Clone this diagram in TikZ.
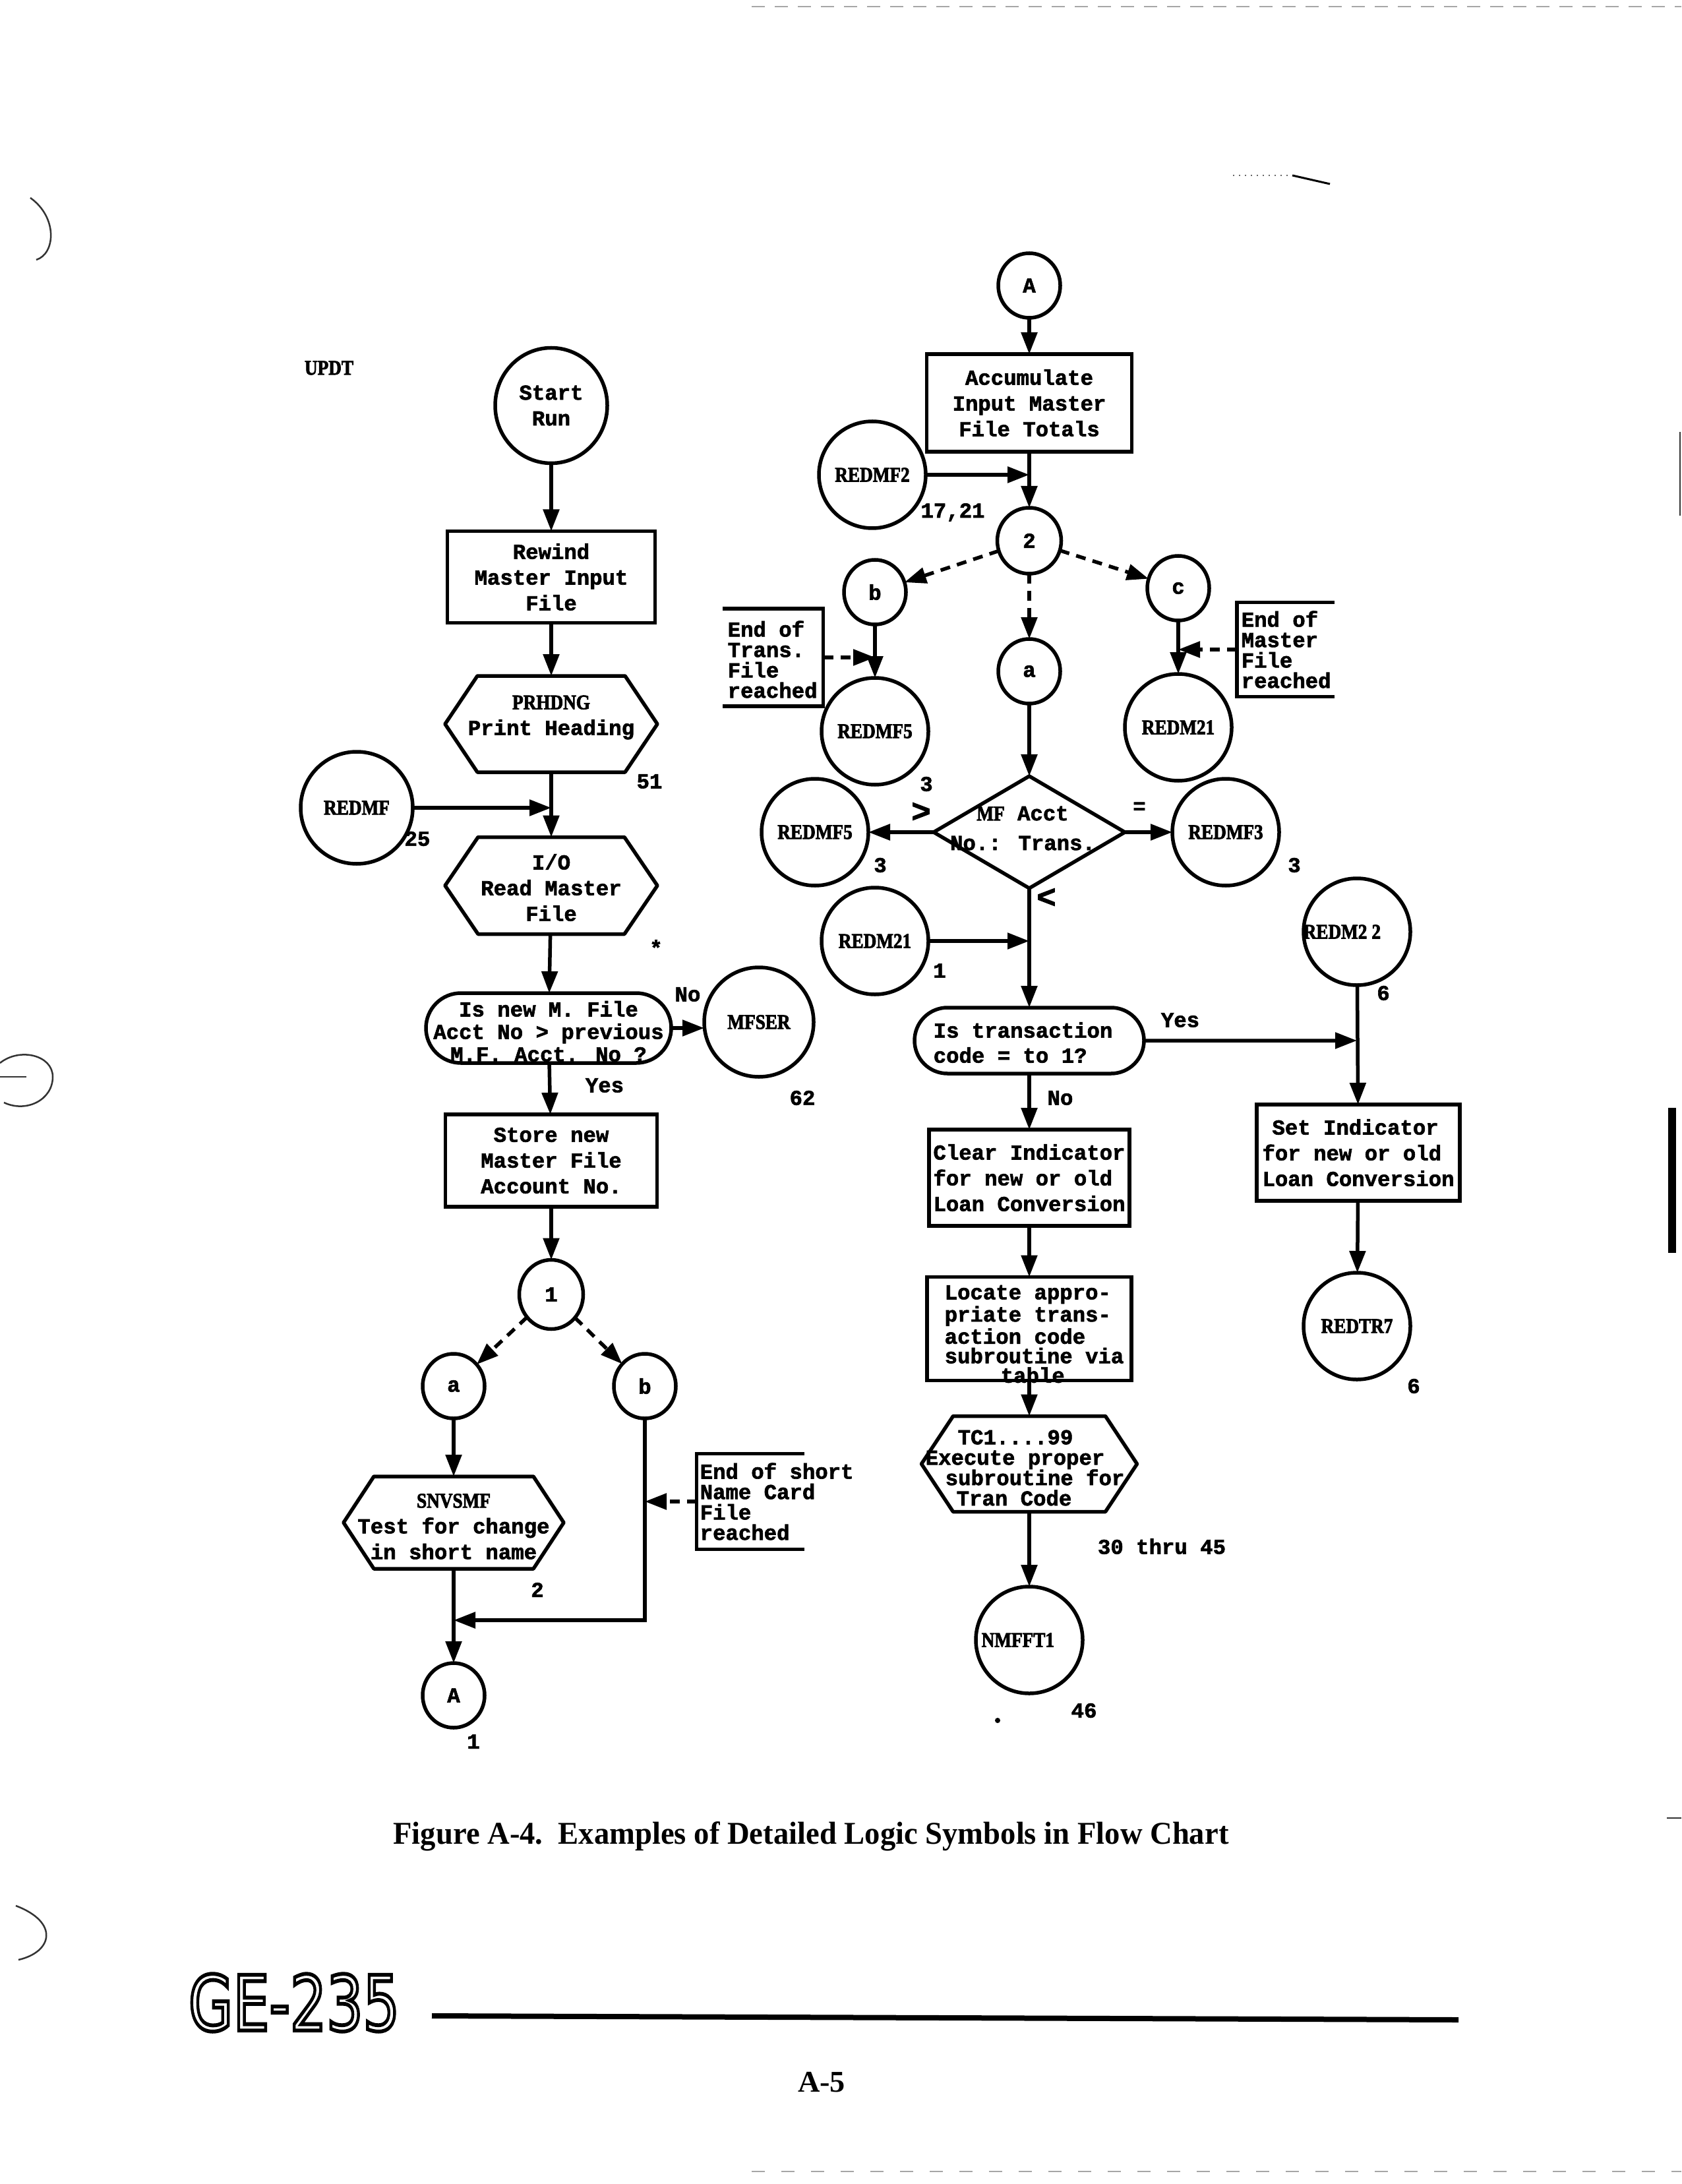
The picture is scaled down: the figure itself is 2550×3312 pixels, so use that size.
\documentclass[tikz,border=0pt]{standalone}
\usepackage{fontspec}
\usepackage{graphicx}
\usetikzlibrary{shapes.geometric,shapes.misc,arrows.meta,calc}
\setmainfont{Liberation Serif}
\newfontfamily\monofam[BoldFeatures={FakeBold=2}]{Liberation Mono}
\newfontfamily\condfam[FakeStretch=0.86, BoldFeatures={FakeBold=2.5}]{Liberation Serif}
\newfontfamily\capfam{Liberation Serif}
\newfontfamily\logofam{DejaVu Sans}
% typewriter text with a chosen baselineskip
\newcommand{\twb}[1]{\monofam\bfseries\fontsize{9.2}{#1}\selectfont}
\newcommand{\tw}{\twb{11.1}}
% bold condensed routine names
\newcommand{\lblf}{\condfam\bfseries\fontsize{9}{10}\selectfont}
\newcommand{\symf}{\monofam\bfseries\fontsize{14}{14}\selectfont}

\tikzset{
  flowline/.style={line width=0.55mm},
  arr/.style={flowline, -{Triangle[length=3.3mm,width=2.4mm]}},
  darr/.style={arr, dash pattern=on 1.5mm off 1.1mm},
  disc/.style={draw, flowline, ellipse, inner sep=0pt, outer sep=0pt,
    minimum width=16.2mm, minimum height=16.2mm, font=\lblf},
  conn/.style={draw, flowline, ellipse, inner sep=0pt, outer sep=0pt,
    minimum width=9.4mm, minimum height=9.8mm, font=\tw},
  proc/.style={draw, flowline, rectangle, inner sep=0pt, outer sep=0pt,
    font=\tw, align=center},
  term/.style={draw, flowline, rounded rectangle, inner sep=0pt, outer sep=0pt},
  hexarea/.style={rectangle, inner sep=0pt, outer sep=0pt},
  cmpshape/.style={draw, flowline, diamond, inner sep=0pt, outer sep=0pt},
  boxtext/.style={inner sep=0pt, font=\tw, align=center},
  annot/.style={inner sep=0pt, outer sep=0pt},
  note/.style={inner sep=0pt, font=\twb{8.8}, align=left},
  num/.style={inner sep=0pt, font=\tw},
  routine/.style={inner sep=0pt, font=\lblf},
  scanmark/.style={line width=0.25mm, draw=black!80},
}

% flat-topped hexagon drawn around a hexarea node; #2 = depth of the side points
\newcommand{\hexoutline}[2]{%
  \draw[flowline, line join=round]
    ($(#1.north west)+(#2,0)$) -- ($(#1.north east)+(-#2,0)$) -- (#1.east)
    -- ($(#1.south east)+(-#2,0)$) -- ($(#1.south west)+(#2,0)$) -- (#1.west) -- cycle;}
% annotation brackets
\newcommand{\bracketL}[1]{% open on the left
  \draw[flowline] (#1.north west) -- (#1.north east) -- (#1.south east) -- (#1.south west);}
\newcommand{\bracketR}[1]{% open on the right
  \draw[flowline] (#1.north east) -- (#1.north west) -- (#1.south west) -- (#1.south east);}
% outlined (stroked, unfilled) logo lettering
\newcommand{\logotext}{\resizebox{32mm}{8.6mm}{\special{pdf:literal direct 1 Tr 0.5 w}\logofam GE-235\special{pdf:literal direct 0 Tr}}}

\begin{document}
\begin{tikzpicture}[x=0.1mm, y=-0.1mm]
\fill[white] (0,0) rectangle (2550,3312);
\path[use as bounding box] (0,0) rectangle (2550,3312);

\node[routine] (updt) at (499,558) {UPDT};

% ---------------- left column ----------------
\node[disc, font=\tw, align=center, minimum width=17mm, minimum height=17.5mm] (start) at (836,615) {Start\\Run};
\node[proc, minimum width=31.5mm, minimum height=13.9mm] (rewind) at (836,875) {Rewind\\Master Input\\File};

\node[hexarea, minimum width=32.2mm, minimum height=14.6mm] (prh) at (836,1098) {};
\hexoutline{prh}{4.9mm}
\node[boxtext] (prh-t) at (836,1088) {{\lblf PRHDNG}\\Print Heading};

\node[hexarea, minimum width=32.2mm, minimum height=14.7mm] (io) at (836,1343) {};
\hexoutline{io}{5mm}
\node[boxtext] (io-t) at (836,1346) {I/O\\Read Master\\File};

\node[disc, minimum width=17mm, minimum height=17mm] (redmf) at (541,1225) {REDMF};
\coordinate (joinA) at (836,1225);

\node[boxtext, font=\twb{9.7}] (cmp1-t) at (832,1564) {Is new M. File\\Acct No > previous\\M.F. Acct. No ?};
\node[term, minimum width=37.2mm, minimum height=10.6mm] (cmp1) at (832,1559) {};
\node[disc, minimum width=16.6mm, minimum height=16.6mm] (mfser) at (1151,1550) {MFSER};

\node[proc, minimum width=32.1mm, minimum height=14mm] (store) at (836,1760) {Store new\\Master File\\Account No.};
\node[conn, minimum width=9.7mm, minimum height=10.5mm] (c1) at (836,1963) {1};
\node[conn] (ca) at (688,2102) {a};
\node[conn] (cb) at (978,2102) {b};

\node[hexarea, minimum width=33.4mm, minimum height=14mm] (snv) at (688,2309) {};
\node[boxtext] (snv-t) at (688,2315) {{\lblf SNVSMF}\\Test for change\\in short name};
\hexoutline{snv}{4.6mm}
\node[conn] (cA) at (688,2571) {A};
\coordinate (joinB) at (688,2457);

\node[annot, minimum width=16.3mm, minimum height=14.5mm] (shortf) at (1138,2277) {};
\node[note, anchor=west] (short-t) at (1061,2277) {End of short\\Name Card\\File\\reached};
\bracketR{shortf}

\node[num] (n51) at (985,1185) {51};
\node[num] (n25) at (633,1272) {25};
\node[num] (nstar) at (995,1437) {*};
\node[num] (nno1) at (1043,1508) {No};
\node[num] (n62) at (1217,1665) {62};
\node[num] (nyes1) at (917,1646) {Yes};
\node[num] (n2) at (815,2411) {2};
\node[num] (n1) at (718,2641) {1};

\draw[arr] (start) -- (rewind);
\draw[arr] (rewind) -- (prh);
\draw[arr] (prh) -- (io);
\draw[arr] (redmf) -- (joinA);
\draw[arr] (io) -- (cmp1);
\draw[arr] (cmp1.east) -- (cmp1.east -| mfser.west);
\draw[arr] (cmp1) -- (store);
\draw[arr] (store) -- (c1);
\draw[darr] (c1) -- (ca);
\draw[darr] (c1) -- (cb);
\draw[arr] (ca) -- (snv);
\draw[arr] (snv) -- (cA);
\draw[arr] (cb) |- (joinB);
\draw[darr] (shortf.west) -- (shortf.west -| cb);

% ---------------- right column ----------------
\node[conn] (cA2) at (1561,433) {A};
\node[proc, minimum width=31.1mm, minimum height=14.8mm] (acc) at (1561,611) {Accumulate\\Input Master\\File Totals};
\node[disc] (redmf2) at (1323,720) {REDMF2};
\coordinate (joinC) at (1561,720);
\node[conn, minimum width=9.7mm, minimum height=10mm] (c2) at (1561,820) {2};
\node[conn] (rb) at (1327,898) {b};
\node[conn] (rc) at (1787,892) {c};
\node[conn] (ra) at (1561,1018) {a};
\node[disc] (redmf5a) at (1327,1109) {REDMF5};
\node[disc] (redm21a) at (1787,1103) {REDM21};

\node[annot, minimum width=15.3mm, minimum height=14.8mm] (transf) at (1172,997) {};
\node[note, anchor=west] (trans-t) at (1103,1000) {End of\\Trans.\\File\\reached};
\bracketL{transf}
\node[annot, minimum width=14.8mm, minimum height=14.3mm] (masf) at (1950,985) {};
\node[note, anchor=west] (mas-t) at (1882,985) {End of\\Master\\File\\reached};
\bracketR{masf}

\node[boxtext, font=\twb{12.8}] (dia-t) at (1551,1256) {{\lblf MF} Acct\\No.: Trans.};
\node[cmpshape, minimum width=29mm, minimum height=17mm] (dia) at (1561,1262) {};
\node[disc] (redmf5b) at (1236,1262) {REDMF5};
\node[disc] (redmf3) at (1859,1262) {REDMF3};
\node[disc] (redm21b) at (1327,1427) {REDM21};
\coordinate (joinD) at (1561,1427);

\node[boxtext, font=\twb{10.8}, align=left, anchor=west] (term2-t) at (1415,1581) {Is transaction\\code = to 1?};
\node[term, minimum width=34.8mm, minimum height=10mm] (term2) at (1561,1578) {};
\node[disc] (redm22) at (2058,1413) {};
\node[routine, anchor=west] (redm22-t) at (1976,1413) {REDM2\hspace{0.7mm}2};
\coordinate (joinE) at (2058,1578);
\node[proc, minimum width=30.8mm, minimum height=14.6mm, align=left] (setb) at (2060,1748) {\hspace*{1.5mm}Set Indicator\\for new or old\\Loan Conversion};
\node[disc] (redtr7) at (2058,2011) {REDTR7};

\node[proc, minimum width=30.4mm, minimum height=14.6mm, align=left] (clear) at (1561,1786) {Clear Indicator\\for new or old\\Loan Conversion};
\node[note, font=\twb{8.4}, anchor=west] (loc-t) at (1432,2023) {Locate appro-\\priate trans-\\action code\\subroutine via\\\hspace*{8.5mm}table};
\node[proc, minimum width=31mm, minimum height=15.7mm] (locate) at (1561,2015) {};
\node[hexarea, minimum width=32.7mm, minimum height=14.5mm] (tc) at (1561,2220) {};
\node[note, anchor=west] (tc-t) at (1403,2226) {\hspace*{4.9mm}TC1....99\\Execute proper\\\hspace*{3mm}subroutine for\\\hspace*{4.7mm}Tran Code};
\hexoutline{tc}{4.8mm}
\node[disc] (nmf) at (1561,2487) {};
\node[routine, anchor=west] (nmf-t) at (1488,2487) {NMFFT1};

\node[num] (n1721) at (1445,777) {17,21};
\node[num] (n3a) at (1405,1189) {3};
\node[num] (n3b) at (1335,1312) {3};
\node[num] (n3c) at (1963,1312) {3};
\node[inner sep=0pt, font=\symf] (sgt) at (1397,1232) {>};
\node[num] (seq) at (1728,1225) {=};
\node[inner sep=0pt, font=\symf] (slt) at (1587,1362) {<};
\node[num] (n1b) at (1425,1472) {1};
\node[num] (nyes2) at (1790,1547) {Yes};
\node[num] (nno2) at (1608,1665) {No};
\node[num] (n6a) at (2098,1506) {6};
\node[num] (n6b) at (2144,2102) {6};
\node[num] (n3045) at (1762,2345) {30 thru 45};
\node[num] (n46) at (1644,2594) {46};

\draw[arr] (cA2) -- (acc);
\draw[arr] (acc) -- (c2);
\draw[arr] (redmf2) -- (joinC);
\draw[darr] (c2) -- (rb);
\draw[darr] (c2) -- (ra);
\draw[darr] (c2) -- (rc);
\draw[arr] (rb) -- (redmf5a);
\draw[arr] (rc) -- (redm21a);
\draw[darr] (transf.east) -- (transf.east -| rb);
\draw[darr] (masf.west) -- (masf.west -| rc);
\draw[arr] (ra) -- (dia);
\draw[arr] (dia) -- (redmf5b);
\draw[arr] (dia) -- (redmf3);
\draw[arr] (dia) -- (term2);
\draw[arr] (redm21b) -- (joinD);
\draw[arr] (term2) -- (joinE);
\draw[arr] (redm22) -- (setb);
\draw[arr] (setb) -- (redtr7);
\draw[arr] (term2) -- (clear);
\draw[arr] (clear) -- (locate);
\draw[arr] (locate) -- (tc);
\draw[arr] (tc) -- (nmf);
\fill (1513,2609) circle (0.4mm);

% ---------------- caption and page foot ----------------
\node[inner sep=0pt] (caption) at (1230,2785)
  {\resizebox{126.7mm}{\height}{\capfam\bfseries\fontsize{13.7}{16}\selectfont Figure A-4.\ \ Examples of Detailed Logic Symbols in Flow Chart}};

\coordinate (logoc) at (446,3037);
\node[inner sep=0pt] (logo) at (logoc) {\logotext};

\coordinate (ruleL) at (655,3057);
\coordinate (ruleR) at (2212,3063);
\draw[line width=0.8mm] (ruleL) -- (ruleR);

\node[inner sep=0pt] (pageno) at (1246,3158)
  {\resizebox{7.2mm}{\height}{\capfam\bfseries\fontsize{13}{15}\selectfont A-5}};

% ---------------- marks along the page edges ----------------
\draw[scanmark] (46,300) .. controls (88,330) and (84,385) .. (55,394);
\draw[scanmark] (0,1612) .. controls (30,1588) and (80,1600) .. (80,1633) .. controls (80,1668) and (40,1688) .. (6,1672);
\draw[scanmark] (0,1633) -- (40,1633);
\draw[scanmark] (24,2890) .. controls (90,2915) and (80,2960) .. (28,2972);
\draw[scanmark] (2548,655) -- (2548,782);
\fill (2530,1680) rectangle (2542,1900);
\draw[scanmark] (2528,2757) -- (2550,2757);
\draw[line width=0.15mm, draw=black!35, dash pattern=on 2mm off 1.5mm] (1140,10) -- (2550,10);
\draw[line width=0.2mm, draw=black!60, dotted] (1870,266) -- (1960,266);
\draw[line width=0.3mm] (1960,266) -- (2017,279);
\draw[line width=0.15mm, draw=black!35, dash pattern=on 2mm off 2.5mm] (1140,3293) -- (2550,3293);
\end{tikzpicture}
\end{document}
